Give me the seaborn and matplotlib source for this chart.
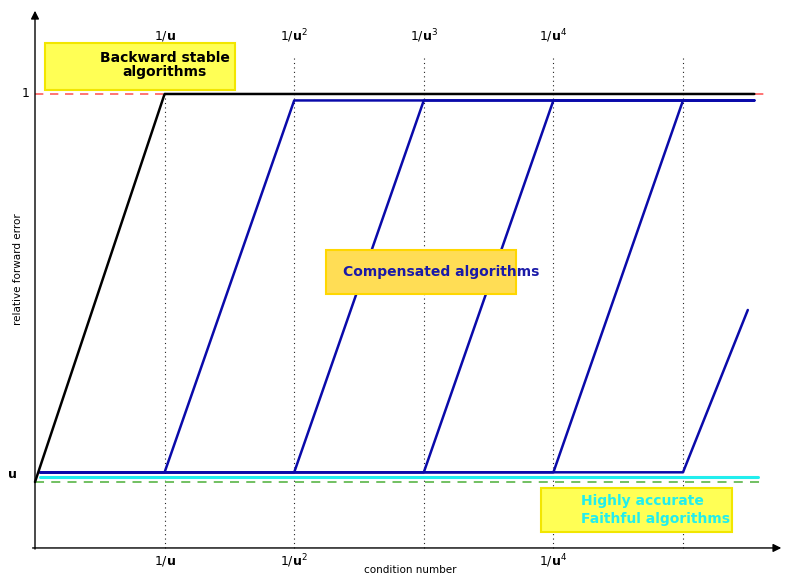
import matplotlib
matplotlib.use("Agg")
import matplotlib.pyplot as plt
from matplotlib.patches import Rectangle
import numpy as np
import pandas as pd
import seaborn as sns

sns.set_style("white")
plt.rcParams["font.family"] = ["DejaVu Sans"]
plt.rcParams["mathtext.fontset"] = "dejavusans"
plt.rcParams["text.color"] = "black"

# Error levels (arbitrary units): u-level at 0, "1" level at 6
u_level = 0.0
one_level = 6.0
comp_low = 0.15
comp_high = 5.9
faithful_level = 0.08
x_end = 5.55

# Condition-number breakpoints 1/u, 1/u^2, ... , 1/u^5
breaks = [1, 2, 3, 4, 5]
top_labels = [r"$1/\mathbf{u}$", r"$1/\mathbf{u}^2$", r"$1/\mathbf{u}^3$", r"$1/\mathbf{u}^4$"]
bottom_ticks = [1, 2, 4]
bottom_labels = [r"$1/\mathbf{u}$", r"$1/\mathbf{u}^2$", r"$1/\mathbf{u}^4$"]

# Backward stable algorithm
backward_x = [0, 1, x_end]
backward_y = [u_level, one_level, one_level]

# Compensated algorithms (K-fold precision)
comp_x = [[0.04, 1, 2, x_end], [0.04, 2, 3, x_end], [0.04, 3, 4, x_end],
          [0.04, 4, 5, x_end], [0.04, 5, 5.5]]
comp_y = [[comp_low, comp_low, comp_high, comp_high]] * 4 + [[comp_low, comp_low, 2.66]]

faithful_x = [0.04, 5.58]
faithful_y = [faithful_level, faithful_level]

fig = plt.figure(figsize=(7.85, 5.76), dpi=100)
ax = fig.add_axes([0, 0, 1, 1])
px_x = 129.6
px_y = 64.67
ax.set_xlim(-35 / px_x, (785 - 35) / px_x)
ax.set_ylim(-(576 - 482) / px_y, 482 / px_y)
ax.axis("off")


def to_x(p):
    return (p - 35) / px_x


def to_y(p):
    return (482 - p) / px_y


# vertical dotted guides
for b in breaks:
    ax.plot([b, b], [-1.02, to_y(55)], ls=(0, (1, 3)), color="#222222", lw=0.8, zorder=1)

# reference levels
ax.plot([0, 5.63], [one_level, one_level], ls=(0, (5, 4)), color="#ff5c5c", lw=1.2, zorder=2)
ax.plot([0, 5.63], [u_level, u_level], ls=(0, (5, 4)), color="#66bb55", lw=1.3, zorder=2)

sns.lineplot(x=faithful_x, y=faithful_y, ax=ax, color="#22eeee", lw=2.2, zorder=3)
for xs, ys in zip(comp_x, comp_y):
    df = pd.DataFrame({"x": xs, "y": ys})
    sns.lineplot(data=df, x="x", y="y", ax=ax, color="#0a0aaa", lw=1.8, zorder=4,
                 sort=False, estimator=None)
sns.lineplot(data=pd.DataFrame({"x": backward_x, "y": backward_y}), x="x", y="y",
             ax=ax, color="black", lw=1.8, zorder=5, sort=False, estimator=None)

# axes with arrows
ax.annotate("", xy=(0, 7.33), xytext=(0, -1.08),
            arrowprops=dict(arrowstyle="-|>", color="black", lw=1.0, mutation_scale=12))
ax.annotate("", xy=(5.78, -1.02), xytext=(-0.04, -1.02),
            arrowprops=dict(arrowstyle="-|>", color="black", lw=1.0, mutation_scale=12))

# tick labels
for b, lab in zip(breaks, top_labels):
    ax.text(b, to_y(36), lab, ha="center", va="center", fontsize=9, color="black")
for b, lab in zip(bottom_ticks, bottom_labels):
    ax.text(b, to_y(561), lab, ha="center", va="center", fontsize=9, color="black")
ax.text(to_x(30), one_level, "1", ha="right", va="center", fontsize=9, color="black")
ax.text(to_x(12), to_y(475), "u", ha="center", va="center", fontsize=9,
        fontweight="bold", color="black")

ax.text(to_x(410), to_y(570), "condition number", ha="center", va="center",
        fontsize=7.5, color="black")
ax.text(to_x(18), to_y(269), "relative forward error", ha="center", va="center",
        fontsize=7.5, rotation=90, color="black")


# annotation boxes
def box(x0, y0, x1, y1, face, edge):
    ax.add_patch(Rectangle((x0, y0), x1 - x0, y1 - y0, facecolor=face,
                           edgecolor=edge, lw=1.5, zorder=6))


box(to_x(45), to_y(90), to_x(235), to_y(43), "#ffff55", "#f2e600")
ax.text(1.0, to_y(65), "Backward stable\nalgorithms", ha="center", va="center",
        fontsize=10, fontweight="bold", color="black", linespacing=1.0, zorder=7)

box(to_x(326), to_y(294), to_x(516), to_y(250), "#ffdd55", "#ffd700")
ax.text(to_x(343), to_y(272), "Compensated algorithms", ha="left", va="center",
        fontsize=10, fontweight="bold", color="#1a1aa8", zorder=7)

box(to_x(541), to_y(532), to_x(732), to_y(488), "#ffff55", "#f2e600")
ax.text(to_x(581), to_y(510), "Highly accurate\nFaithful algorithms", ha="left",
        va="center", fontsize=10, fontweight="bold", color="#22eeee",
        linespacing=1.3, zorder=7)

fig.savefig("out.png", dpi=100)
